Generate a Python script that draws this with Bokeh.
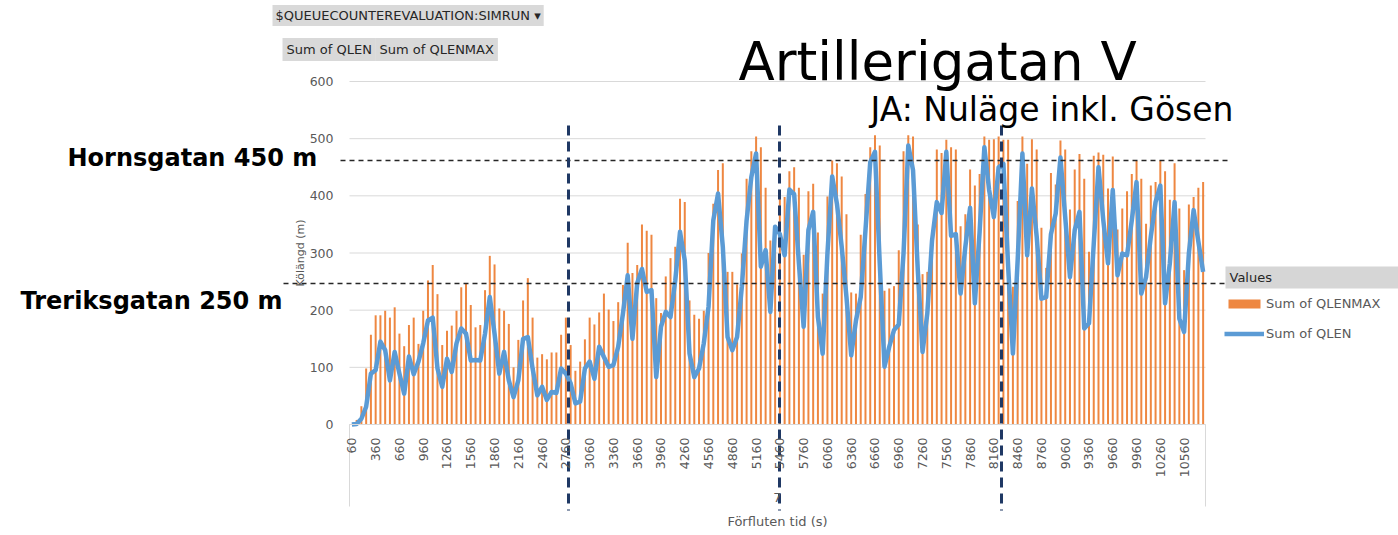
from bokeh.plotting import figure
from bokeh.models import Range1d, FixedTicker, Label, Legend, LegendItem, BoxAnnotation
from bokeh.embed import file_html
from bokeh.resources import INLINE
from math import pi

# ---------------- data ----------------
times = list(range(60, 10801, 60))  # category values: elapsed time (s)
tick_labels = [str(t) for t in times[::5]]
y_ticks = [0, 100, 200, 300, 400, 500, 600]

qlenmax = [0, 8, 32, 98, 157, 191, 191, 199, 187, 205,
           159, 137, 174, 187, 141, 199, 252, 279, 228, 139,
           164, 173, 199, 240, 247, 209, 170, 174, 235, 295,
           280, 203, 199, 176, 100, 148, 217, 256, 187, 117,
           123, 114, 126, 126, 157, 187, 139, 94, 110, 149,
           187, 175, 196, 229, 201, 181, 214, 244, 318, 265,
           279, 350, 339, 332, 221, 195, 259, 291, 311, 395,
           389, 217, 192, 185, 199, 300, 386, 445, 457, 267,
           267, 245, 299, 430, 478, 504, 485, 414, 322, 348,
           410, 398, 443, 450, 414, 297, 408, 421, 336, 229,
           399, 462, 457, 434, 368, 231, 229, 332, 403, 485,
           506, 488, 234, 238, 242, 305, 478, 506, 504, 350,
           263, 267, 322, 481, 475, 498, 485, 481, 347, 368,
           446, 418, 438, 504, 498, 499, 504, 498, 498, 241,
           391, 504, 456, 499, 481, 344, 274, 440, 420, 497,
           481, 376, 446, 473, 430, 302, 470, 476, 472, 413,
           469, 341, 378, 408, 438, 461, 430, 351, 418, 424,
           462, 443, 393, 457, 378, 270, 385, 398, 414, 424]

qlen = [0, 1, 10, 31, 89, 95, 145, 130, 77, 127,
        89, 54, 119, 88, 110, 142, 182, 187, 98, 66,
        115, 92, 142, 168, 159, 112, 113, 112, 159, 223,
        159, 89, 127, 77, 48, 77, 150, 153, 98, 51,
        66, 43, 57, 55, 98, 89, 72, 37, 40, 98,
        110, 80, 136, 118, 101, 104, 136, 194, 261, 150,
        247, 272, 232, 235, 83, 171, 197, 188, 252, 337,
        287, 124, 83, 98, 142, 206, 357, 404, 311, 153,
        130, 153, 241, 357, 433, 474, 276, 305, 197, 346,
        333, 296, 411, 403, 282, 171, 340, 372, 188, 124,
        299, 434, 386, 311, 223, 121, 182, 223, 340, 459,
        477, 282, 101, 136, 165, 175, 299, 488, 445, 270,
        127, 194, 322, 389, 370, 477, 330, 333, 229, 311,
        379, 212, 337, 485, 410, 363, 450, 456, 276, 124,
        287, 474, 296, 413, 329, 220, 223, 333, 369, 467,
        363, 258, 340, 372, 168, 177, 316, 450, 358, 282,
        410, 261, 299, 296, 357, 424, 229, 258, 329, 389,
        418, 212, 282, 389, 185, 162, 299, 375, 320, 267]

# ---------------- geometry (page pixels -> data) ----------------
W, H = 1398, 535
FL, FR, FT, FB = 349, 1205, 81, 424          # Excel plot-area edges in page pixels
N = len(times)
PX = (FR - FL) / N
PY = (FB - FT) / 600.0


def dx(px):
    return (px - FL) / PX - 0.5


def dy(py):
    return (FB - py) / PY


GRAY = "#595959"
FONT = "DejaVu Sans"

p = figure(width=W, height=H, output_backend="svg", toolbar_location=None,
           x_range=Range1d(dx(0), dx(W)), y_range=Range1d(dy(H), dy(0)),
           min_border=0, min_border_left=0, min_border_right=0,
           min_border_top=0, min_border_bottom=0)
p.outline_line_color = None
p.background_fill_color = "white"
p.border_fill_color = "white"
p.xgrid.visible = False
p.ygrid.visible = False

idx = list(range(N))

# horizontal gridlines of the plot area
p.segment(x0=[-0.5] * len(y_ticks), x1=[N - 0.5] * len(y_ticks), y0=y_ticks, y1=y_ticks,
          line_color="#D9D9D9", line_width=1)

bars = p.vbar(x=idx, top=qlenmax, width=0.42, fill_color="#ED7D31", fill_alpha=0.92,
              line_color=None)
line = p.line(x=idx, y=qlen, line_color="#5B9BD5", line_width=4.5, line_join="round")

# ---------------- axes (fixed at the plot-area edges) ----------------
yax = p.yaxis[0]
yax.fixed_location = -0.5
yax.bounds = (0, 600)
yax.ticker = FixedTicker(ticks=y_ticks)
yax.axis_line_color = None
yax.major_tick_line_color = None
yax.minor_tick_line_color = None
yax.major_label_standoff = 10
yax.major_label_text_font = FONT
yax.major_label_text_font_size = "12.5px"
yax.major_label_text_color = GRAY
yax.axis_label = "Kölängd (m)"
yax.axis_label_text_font = FONT
yax.axis_label_text_font_style = "normal"
yax.axis_label_text_font_size = "11px"
yax.axis_label_text_color = GRAY
yax.axis_label_standoff = 0

tick_pos = list(range(0, N, 5))
xax = p.xaxis[0]
xax.fixed_location = 0
xax.bounds = (-0.5, N - 0.5)
xax.ticker = FixedTicker(ticks=tick_pos)
xax.major_label_overrides = {i: lab for i, lab in zip(tick_pos, tick_labels)}
xax.major_label_orientation = pi / 2
xax.axis_line_color = "#D9D9D9"
xax.major_tick_line_color = None
xax.minor_tick_line_color = None
xax.major_label_standoff = 7
xax.major_label_text_font = FONT
xax.major_label_text_font_size = "12.5px"
xax.major_label_text_color = GRAY
xax.axis_label = "Förfluten tid (s)"
xax.axis_label_text_font = FONT
xax.axis_label_text_font_style = "normal"
xax.axis_label_text_font_size = "13px"
xax.axis_label_text_color = GRAY
xax.axis_label_standoff = 34

# ---------------- overlays ----------------
# category box lines below the axis
p.segment(x0=[-0.5, N - 0.5], x1=[-0.5, N - 0.5], y0=[0, 0], y1=[dy(506), dy(506)],
          line_color="#D9D9D9", line_width=1)

# reference lines (Hornsgatan / Treriksgatan)
p.segment(x0=[dx(340), dx(283)], x1=[dx(1228), dx(1232)], y0=[dy(160), dy(283)],
          y1=[dy(160), dy(283)], line_color="#262626", line_width=1.5, line_dash="5 4")

# period separators
sep_x = [dx(568), dx(779), dx(1001)]
p.segment(x0=sep_x, x1=sep_x, y0=[dy(125)] * 3, y1=[dy(510)] * 3,
          line_color="#1F3864", line_width=3, line_dash="10 6")


def label(px, py, text, size, color="black", style="normal", align="left", baseline="middle", **kw):
    p.add_layout(Label(x=dx(px), y=dy(py), text=text, text_font=FONT, text_font_size=size,
                       text_color=color, text_font_style=style, text_align=align,
                       text_baseline=baseline, **kw))


label(738, 61, "Artillerigatan V", "53px")
label(870, 109, "JA: Nuläge inkl. Gösen", "33px")
label(67, 157, "Hornsgatan 450 m", "24px", style="bold")
label(20, 300, "Treriksgatan 250 m", "24px", style="bold")
label(777, 497, "7", "13px", color=GRAY, align="center")

label(272, 15, "$QUEUECOUNTEREVALUATION:SIMRUN ▾", "13px", color="#262626",
      background_fill_color="#D9D9D9", padding=3)
label(282, 49, "Sum of QLEN", "13px", color="#262626", background_fill_color="#D9D9D9", padding=4)
label(375, 49, "Sum of QLENMAX", "13px", color="#262626", background_fill_color="#D9D9D9", padding=4)

# legend header
p.add_layout(BoxAnnotation(left=dx(1225), right=dx(W), top=dy(266), bottom=dy(288),
                           fill_color="#D6D6D6", fill_alpha=1, line_color=None))
label(1229, 277, "Values", "13px", color="#262626")

legend = Legend(items=[LegendItem(label="Sum of QLENMAX", renderers=[bars]),
                       LegendItem(label="Sum of QLEN", renderers=[line])],
                location=(1224, 192), border_line_color=None, background_fill_alpha=0,
                label_text_font=FONT, label_text_font_size="13px", label_text_color=GRAY,
                glyph_width=40, glyph_height=11, label_height=20, spacing=10, padding=4,
                margin=0, label_standoff=2)
p.add_layout(legend, "center")

open("out.html", "w").write(file_html(p, INLINE))
